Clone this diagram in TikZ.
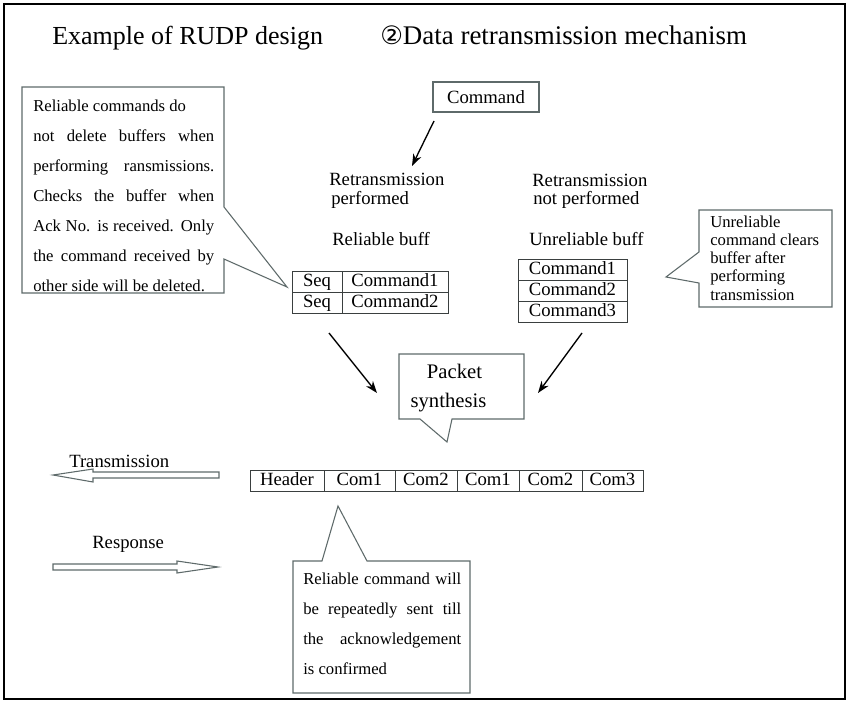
\documentclass[tikz,border=0pt]{standalone}
\usepackage{fontspec}
\setmainfont{Liberation Serif}
\newfontfamily\symfont{DejaVu Sans}
\usetikzlibrary{arrows.meta}
\definecolor{callc}{HTML}{5E6A6A}
\definecolor{tabc}{HTML}{3A3F3F}
\begin{document}
\begin{tikzpicture}[x=0.75pt,y=-0.75pt,
  lab/.style={anchor=base west, inner sep=0pt, font=\fontsize{14}{16}\selectfont},
  ctext/.style={anchor=base west, inner sep=0pt, font=\fontsize{12.5}{14}\selectfont},
  cell/.style={draw=tabc, line width=0.7pt, inner sep=0pt, text height=9.6pt, text depth=2.8pt, font=\fontsize{14}{16}\selectfont},
  callout/.style={draw=callc, line width=0.8pt, fill=white},
  hollow/.style={draw=callc, line width=0.8pt, fill=white},
  arr/.style={draw=black, line width=1pt, -{Stealth[length=9pt,width=6.5pt]}}]
\useasboundingbox (0,0) rectangle (850,703);
\fill[white] (0,0) rectangle (850,703);
\draw[line width=2.2pt] (4,4) rectangle (845,699);

% titles
\node[anchor=base west, inner sep=0pt, font=\fontsize{19.5}{22}\selectfont] (t1) at (52,44) {Example of RUDP design};
\node[anchor=base west, inner sep=0pt, font=\fontsize{20.2}{22}\selectfont] (t2) at (380,44) {{\symfont\fontsize{19}{20}\selectfont ②}Data retransmission mechanism};

% command box
\node[draw=callc, line width=0.8pt, minimum width=106*0.75pt, minimum height=30*0.75pt, inner sep=0pt, font=\fontsize{14}{16}\selectfont] (cmd) at (486,97) {Command};

% labels
\node[lab] (rt1) at (329,185) {Retransmission};
\node[lab] (rt2) at (331,204) {performed};
\node[lab] (rb) at (332,245) {Reliable buff};
\node[lab] (ut1) at (532,186) {Retransmission};
\node[lab] (ut2) at (533,204) {not performed};
\node[lab] (ub) at (529,245) {Unreliable buff};

% reliable table
\node[cell, minimum width=50*0.75pt, minimum height=21*0.75pt] (s1) at (317,281.5) {Seq};
\node[cell, minimum width=106*0.75pt, minimum height=21*0.75pt] (c1) at (395,281.5) {Command1};
\node[cell, minimum width=50*0.75pt, minimum height=21*0.75pt] (s2) at (317,302.5) {Seq};
\node[cell, minimum width=106*0.75pt, minimum height=21*0.75pt] (c2) at (395,302.5) {Command2};

% unreliable table
\node[cell, minimum width=109*0.75pt, minimum height=21.3*0.75pt] (u1) at (572.5,269.7) {Command1};
\node[cell, minimum width=109*0.75pt, minimum height=21.3*0.75pt] (u2) at (572.5,291) {Command2};
\node[cell, minimum width=109*0.75pt, minimum height=21.3*0.75pt] (u3) at (572.5,312.3) {Command3};

% packet row
\node[cell, minimum width=74*0.75pt, minimum height=21*0.75pt] (p1) at (287,480.5) {Header};
\node[cell, minimum width=71*0.75pt, minimum height=21*0.75pt] (p2) at (359.5,480.5) {Com1};
\node[cell, minimum width=62*0.75pt, minimum height=21*0.75pt] (p3) at (426,480.5) {Com2};
\node[cell, minimum width=62*0.75pt, minimum height=21*0.75pt] (p4) at (488,480.5) {Com1};
\node[cell, minimum width=63*0.75pt, minimum height=21*0.75pt] (p5) at (550.5,480.5) {Com2};
\node[cell, minimum width=61*0.75pt, minimum height=21*0.75pt] (p6) at (612.5,480.5) {Com3};

% left callout
\draw[callout] (22,87) -- (224,87) -- (224,207) -- (287,287) -- (224,259) -- (224,293) -- (22,293) -- cycle;
\node[ctext] (lc0) at (33,111) {Reliable commands do};
\foreach \t [count=\i] in {{not delete buffers when},{performing ransmissions.},{Checks the buffer when},{Ack No. is received. Only},{the command received by}}
  \node[ctext] (lc\i) at (33,{111+30*\i}) {\makebox[135.75pt][s]{\t}};
\node[ctext] (lc6) at (33,291) {other side will be deleted.};

% right callout
\draw[callout] (699,210) -- (832,210) -- (832,307) -- (699,307) -- (699,283) -- (666,277) -- (699,252) -- cycle;
\foreach \t [count=\i from 0] in {{Unreliable},{command clears},{buffer after},{performing},{transmission}}
  \node[ctext] (rc\i) at (710,{227+18.25*\i}) {\t};

% packet synthesis callout
\draw[callout] (399,354) -- (524,354) -- (524,419) -- (452,419) -- (447,442) -- (420,419) -- (399,419) -- cycle;
\node[anchor=base, inner sep=0pt, font=\fontsize{15.5}{18}\selectfont] (ps1) at (454.5,378) {Packet};
\node[anchor=base, inner sep=0pt, font=\fontsize{15.5}{18}\selectfont] (ps2) at (448.5,407) {synthesis};

% bottom callout
\draw[callout] (293,561) -- (322,561) -- (338,506) -- (367,561) -- (470,561) -- (470,693) -- (293,693) -- cycle;
\foreach \t [count=\i from 0] in {{Reliable command will},{be repeatedly sent till},{the acknowledgement}}
  \node[ctext] (bc\i) at (303,{584+30*\i}) {\makebox[118.5pt][s]{\t}};
\node[ctext] (bc3) at (303,674) {is confirmed};

% arrows
\coordinate (a0) at (434,121);
\coordinate (a1) at (412,166);
\draw[arr] (a0) -- (a1);
\coordinate (b0) at (329,333);
\coordinate (b1) at (377,393);
\draw[arr] (b0) -- (b1);
\coordinate (d0) at (582,333);
\coordinate (d1) at (538,393);
\draw[arr] (d0) -- (d1);

% transmission / response
\node[lab] (tr) at (69,467) {Transmission};
\draw[hollow] (219,472) -- (93,472) -- (93,469) -- (53,475) -- (93,482) -- (93,478) -- (219,478) -- cycle;
\node[lab] (rs) at (92,548) {Response};
\draw[hollow] (53,564) -- (177,564) -- (177,561) -- (218,567) -- (177,573) -- (177,570) -- (53,570) -- cycle;
\end{tikzpicture}
\end{document}
